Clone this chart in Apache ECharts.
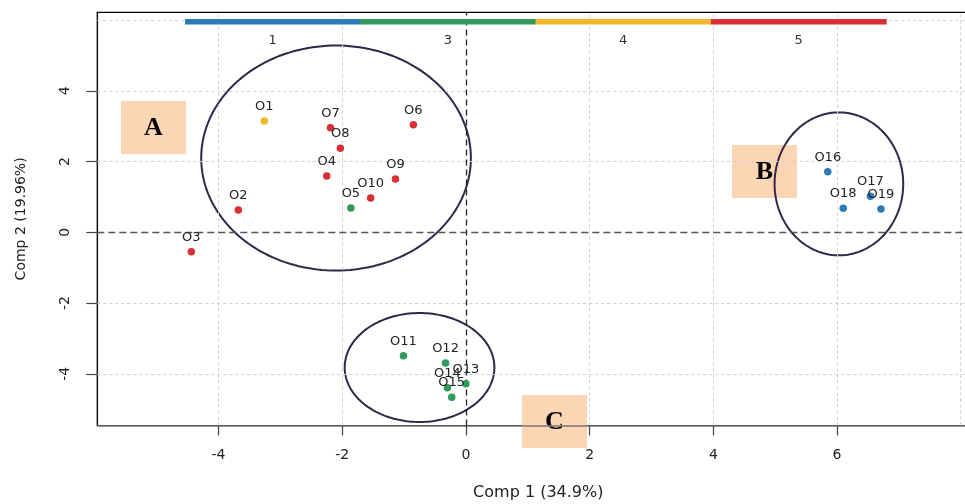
<!DOCTYPE html>
<html>
<head>
<meta charset="utf-8">
<script src="https://cdn.jsdelivr.net/npm/echarts@6/dist/echarts.min.js"></script>
<style>html,body{margin:0;padding:0;background:#fff}#c{width:965px;height:504px}</style>
</head>
<body>
<div id="c"></div>
<script>
// ---- data ----
const names  = ['O1','O2','O3','O4','O5','O6','O7','O8','O9','O10','O11','O12','O13','O14','O15','O16','O17','O18','O19'];
const comp1  = [-3.26,-3.68,-4.44,-2.25,-1.86,-0.85,-2.19,-2.03,-1.14,-1.54,-1.01,-0.33,0.00,-0.30,-0.23,5.85,6.54,6.10,6.71];
const comp2  = [3.15,0.63,-0.55,1.59,0.69,3.04,2.96,2.38,1.51,0.97,-3.49,-3.69,-4.28,-4.39,-4.66,1.71,1.02,0.68,0.66];
const groups = [4,5,5,5,3,5,5,5,5,5,3,3,3,3,3,1,1,1,1];
const groupIds    = [1,3,4,5];
const groupColors = ['#2b7bba','#31995a','#f2b62a','#d83134'];
const xTickVals  = [-4,-2,0,2,4,6];
const yTickVals  = [-4,-2,0,2,4];
const xGridVals  = [-4,-2,2,4,6,8];
const yGridVals  = [-4,-2,2,4,6];
const clusterNames = ['A','B','C'];
const clusterCx = [-2.10, 6.03, -0.75];
const clusterCy = [2.10, 1.37, -3.82];
const clusterRx = [2.18, 1.04, 1.21];
const clusterRy = [3.18, 2.02, 1.54];

// ---- build ----
const chart = echarts.init(document.getElementById('c'), null, {renderer:'canvas'});
const FONT = 'DejaVu Sans';
const pointData = names.map((n,i)=>({
  value:[comp1[i], comp2[i]], name:n,
  itemStyle:{color: groupColors[groupIds.indexOf(groups[i])], opacity:1}
}));
const clusterData = clusterNames.map((n,i)=>({name:n, value:[clusterCx[i],clusterCy[i],clusterRx[i],clusterRy[i]]}));

// top colour bar (legend of groups)
const barLeft = 185, barW = 175.3, barTop = 19, barH = 5.5;
const graphics = [];
groupIds.forEach((g,i)=>{
  graphics.push({type:'rect', left:barLeft+i*barW, top:barTop, shape:{width:barW+0.5, height:barH}, style:{fill:groupColors[i]}, z:10});
  graphics.push({type:'text', x:barLeft+i*barW+barW/2, y:41, style:{text:String(g), fill:'#333', font:'13px "DejaVu Sans"', align:'center', verticalAlign:'middle'}, z:10});
});
// cluster tags
const tags = [[121,101],[732,145],[522,395]];
clusterNames.forEach((n,i)=>{
  graphics.push({type:'group', x:tags[i][0], y:tags[i][1], z:20, children:[
    {type:'rect', shape:{x:0,y:0,width:65,height:53}, style:{fill:'#fcd5b4'}},
    {type:'text', x:32.5, y:27.5, style:{text:n, fill:'#000', font:'bold 26px "Liberation Serif"', align:'center', verticalAlign:'middle'}}
  ]});
});

const option = {
  animation:false,
  backgroundColor:'#fff',
  grid:{left:97.3, top:12.3, width:882, height:413.2, show:true, borderColor:'#000', borderWidth:1.2, backgroundColor:'transparent', outerBoundsMode:'none', containLabel:false},
  xAxis:{
    type:'value', min:-5.96, max:8.3,
    name:'Comp 1 (34.9%)', nameLocation:'middle', nameGap:59,
    nameTextStyle:{fontFamily:FONT, fontSize:16, color:'#222'},
    axisLine:{show:true, onZero:false, lineStyle:{color:'#777', width:1.6}},
    axisTick:{show:true, length:10, customValues:xTickVals, lineStyle:{color:'#444', width:1.2}},
    axisLabel:{customValues:xTickVals, margin:23, fontFamily:FONT, fontSize:14, color:'#222', showMinLabel:true, showMaxLabel:true},
    splitLine:{show:false}
  },
  yAxis:{
    type:'value', min:-5.46, max:6.22,
    name:'Comp 2 (19.96%)', nameLocation:'middle', nameGap:69,
    nameTextStyle:{fontFamily:FONT, fontSize:14, color:'#222'},
    axisLine:{show:true, onZero:false, lineStyle:{color:'#111', width:1.2}},
    axisTick:{show:true, length:11, customValues:yTickVals, lineStyle:{color:'#444', width:1.2}},
    axisLabel:{customValues:yTickVals, rotate:90, margin:25, fontFamily:FONT, fontSize:14, color:'#222'},
    splitLine:{show:false}
  },
  graphic:graphics,
  series:[
    { // grid lines and zero lines
      type:'scatter', data:[], z:1, silent:true,
      markLine:{
        silent:true, symbol:'none', animation:false, label:{show:false},
        data:[
          ...xGridVals.map(v=>({xAxis:v, lineStyle:{color:'#d0d0d0', type:[3,3], width:1}})),
          ...yGridVals.map(v=>({yAxis:v, lineStyle:{color:'#d0d0d0', type:[3,3], width:1}})),
          {xAxis:0, lineStyle:{color:'#222', type:[6,4], width:1.3}},
          {yAxis:0, lineStyle:{color:'#555', type:[7,4], width:1.3}}
        ]
      }
    },
    { // cluster ellipses
      type:'custom', z:2, clip:false, silent:true,
      data:clusterData,
      renderItem:function(params, api){
        const cx=api.value(0), cy=api.value(1), rx=api.value(2), ry=api.value(3);
        const c = api.coord([cx,cy]); const e = api.coord([cx+rx, cy+ry]);
        const a = e[0]-c[0], b = c[1]-e[1];
        const pts=[];
        for(let k=0;k<180;k++){const t=k/180*2*Math.PI; pts.push([c[0]+a*Math.cos(t), c[1]+b*Math.sin(t)]);}
        return {type:'polygon', shape:{points:pts}, style:{fill:'none', stroke:'#33264a', lineWidth:2}};
      }
    },
    { // points
      type:'scatter', z:5, symbol:'circle', symbolSize:7.5,
      data:pointData,
      label:{show:true, position:'top', distance:4, formatter:'{b}', fontFamily:FONT, fontSize:13, color:'#222'}
    }
  ]
};
chart.setOption(option);
</script>
</body>
</html>
